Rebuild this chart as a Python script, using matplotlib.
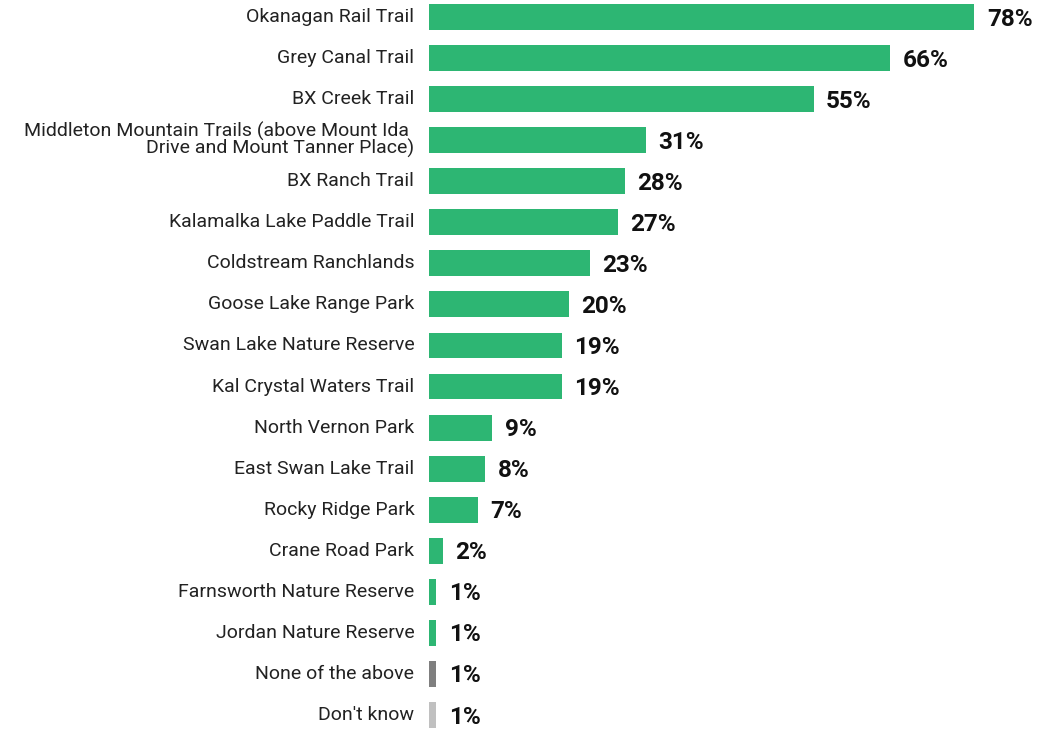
import matplotlib
matplotlib.use('Agg')
import matplotlib.pyplot as plt

labels = [
    "Okanagan Rail Trail",
    "Grey Canal Trail",
    "BX Creek Trail",
    "Middleton Mountain Trails (above Mount Ida \nDrive and Mount Tanner Place)",
    "BX Ranch Trail",
    "Kalamalka Lake Paddle Trail",
    "Coldstream Ranchlands",
    "Goose Lake Range Park",
    "Swan Lake Nature Reserve",
    "Kal Crystal Waters Trail",
    "North Vernon Park",
    "East Swan Lake Trail",
    "Rocky Ridge Park",
    "Crane Road Park",
    "Farnsworth Nature Reserve",
    "Jordan Nature Reserve",
    "None of the above",
    "Don't know",
]
values = [78, 66, 55, 31, 28, 27, 23, 20, 19, 19, 9, 8, 7, 2, 1, 1, 1, 1]
colors = ["#2DB673"] * 16 + ["#7F7F7F", "#C0C0C0"]

plt.rcParams['font.family'] = ['Roboto', 'DejaVu Sans']

fig = plt.figure(figsize=(10.47, 7.35), dpi=100)
ax = fig.add_axes([429 / 1047, 0, 1 - 429 / 1047, 1])

y = list(range(len(values)))
ax.barh(y, values, height=0.63, color=colors)

for i, v in enumerate(values):
    ax.text(v + 1.8, i + 0.05, f"{v}%", va='center', ha='left',
            fontsize=17.5, fontweight='bold', color='#111111')

for i, lab in enumerate(labels):
    ax.text(-2.1, i, lab, va='center', ha='right', fontsize=14,
            color='#222222', linespacing=0.85)

ax.set_xlim(0, 88.4)
ax.set_ylim(17.487, -0.414)
ax.axis('off')

fig.savefig('out.png', dpi=100)
